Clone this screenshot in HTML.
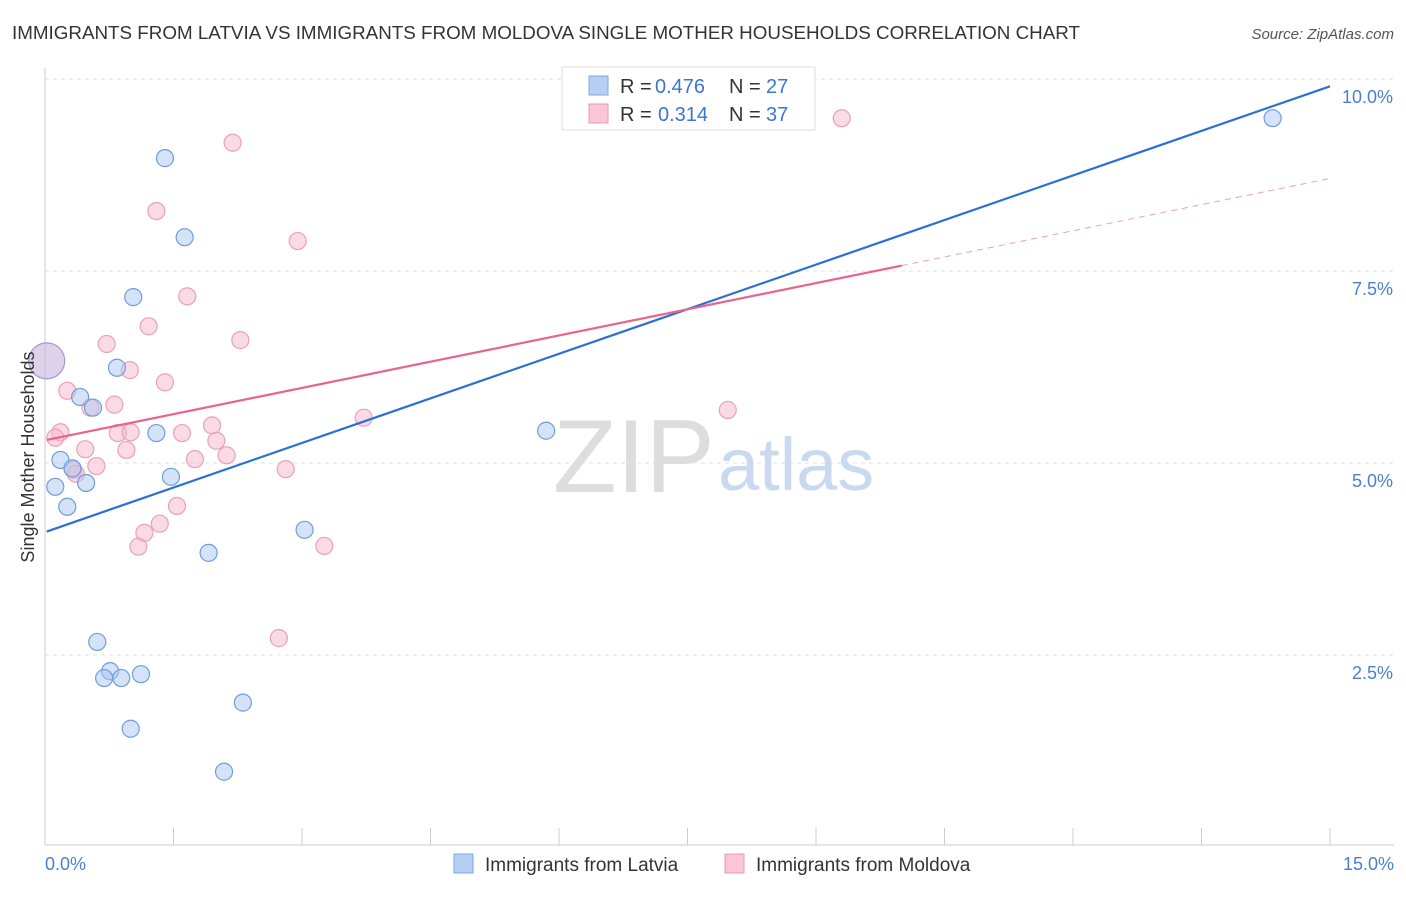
<!DOCTYPE html>
<html><head><meta charset="utf-8"><style>
body{margin:0;background:#fff;font-family:"Liberation Sans",sans-serif;}
svg text{font-family:"Liberation Sans",sans-serif;}
</style></head><body>
<svg width="1406" height="892" viewBox="0 0 1406 892">
<text x="12" y="39" font-size="18" fill="#333" textLength="1068" lengthAdjust="spacingAndGlyphs">IMMIGRANTS FROM LATVIA VS IMMIGRANTS FROM MOLDOVA SINGLE MOTHER HOUSEHOLDS CORRELATION CHART</text>
<text x="1394" y="39" font-size="15" fill="#555" font-style="italic" text-anchor="end">Source: ZipAtlas.com</text>
<g id="grid"></g>
<text x="553" y="492" font-size="104" fill="#ddd" font-family="Liberation Serif">ZIP</text>
<text x="718" y="490" font-size="74" fill="#c9d9ef">atlas</text>
<line x1="45" y1="68" x2="45" y2="845" stroke="#ccc"/>
<line x1="45" y1="845" x2="1394" y2="845" stroke="#ccc"/>
<g id="marks"></g>
<text transform="translate(34,457) rotate(-90)" font-size="18" fill="#333" text-anchor="middle">Single Mother Households</text>
<text x="45" y="870" font-size="18" fill="#4a7fd4">0.0%</text>
<text x="1394" y="870" font-size="18" fill="#4a7fd4" text-anchor="end">15.0%</text>
<g>
<rect x="562" y="67" width="253" height="63" fill="#fff" stroke="#ddd"/>
<rect x="589" y="76" width="19" height="19" fill="#b7d0f2" stroke="#7fa6de"/>
<rect x="589" y="104" width="19" height="19" fill="#f8c6d5" stroke="#e99ab3"/>
<text x="620" y="93" font-size="20" fill="#333">R =</text>
<text x="655" y="93" font-size="20" fill="#3b75d0">0.476</text>
<text x="729" y="93" font-size="20" fill="#333">N =</text>
<text x="766" y="93" font-size="20" fill="#3b75d0">27</text>
<text x="620" y="121" font-size="20" fill="#333">R =</text>
<text x="658" y="121" font-size="20" fill="#3b75d0">0.314</text>
<text x="729" y="121" font-size="20" fill="#333">N =</text>
<text x="766" y="121" font-size="20" fill="#3b75d0">37</text>
</g>
<g>
<rect x="454" y="854" width="19" height="19" fill="#b7d0f2" stroke="#7fa6de"/>
<text x="485" y="871" font-size="19" fill="#333">Immigrants from Latvia</text>
<rect x="725" y="854" width="19" height="19" fill="#f8c6d5" stroke="#e99ab3"/>
<text x="756" y="871" font-size="19" fill="#333">Immigrants from Moldova</text>
</g>
</svg>
<script>
const yTicks=[2.5,5.0,7.5,10.0];
const yTickLabels=["2.5%","5.0%","7.5%","10.0%"];
const xTicks=[1.5,3,4.5,6,7.5,9,10.5,12,13.5,15];
const latviaX=[1.40,1.63,1.03,0.84,0.41,0.56,1.30,0.18,0.32,0.12,0.48,1.47,0.26,1.91,3.03,5.85,0.61,0.76,0.69,0.89,1.12,2.31,1.00,2.09,14.33];
const latviaY=[8.97,7.94,7.16,6.24,5.86,5.72,5.39,5.04,4.93,4.69,4.74,4.82,4.43,3.83,4.13,5.42,2.67,2.29,2.20,2.20,2.25,1.88,1.54,0.98,9.49];
const moldovaX=[2.19,1.30,9.30,2.95,1.66,1.21,2.28,0.72,0.99,1.40,0.26,0.81,0.53,3.72,7.97,0.18,0.12,0.85,1.00,1.60,1.95,0.47,0.95,2.00,1.75,2.12,0.60,0.33,0.36,2.81,1.54,1.34,1.16,1.09,3.26,2.73];
const moldovaY=[9.17,8.28,9.49,7.89,7.17,6.78,6.60,6.55,6.21,6.05,5.94,5.76,5.72,5.59,5.69,5.40,5.33,5.39,5.40,5.39,5.49,5.18,5.17,5.29,5.05,5.10,4.96,4.91,4.86,4.92,4.44,4.21,4.09,3.91,3.92,2.72];
const bigPoint=[0.02,6.33];
const latviaTrend=[4.10,0.387];
const moldovaTrend=[5.30,0.227];
const moldovaSolidEnd=10.0;
const sx=v=>45+v*1285/15;
const sy=v=>847-v*76.8;
const NS="http://www.w3.org/2000/svg";
function mk(t,a,p){const e=document.createElementNS(NS,t);for(const k in a)e.setAttribute(k,a[k]);p.appendChild(e);return e;}
const grid=document.getElementById('grid'),marks=document.getElementById('marks');
yTicks.forEach((v,i)=>{
 const l=mk('line',{x1:45,x2:1394,y1:sy(v),y2:sy(v),stroke:'#e2e2e2','stroke-dasharray':'4,4'},grid);
 
 
 const t=mk('text',{x:1393,y:sy(v)+24,'font-size':18,fill:'#4a7fd4','text-anchor':'end'},grid);
 t.textContent=yTickLabels[i];
 
 
});
const top0=mk('line',{x1:45,x2:1394,y1:79,y2:79,stroke:'#e2e2e2','stroke-dasharray':'4,4'},grid);


xTicks.forEach(v=>{
 const l=mk('line',{x1:sx(v),x2:sx(v),y1:828,y2:845,stroke:'#ccc'},grid);
 
 
});
function dot(x,y,r,fill,stroke,name){
 const c=mk('circle',{cx:sx(x),cy:sy(y),r:r,fill:fill,stroke:stroke,'stroke-width':1.2},marks);
 
 
}
moldovaX.forEach((x,i)=>dot(x,moldovaY[i],8.5,'rgba(246,182,203,0.5)','#eaa0b8','moldova-point'));
latviaX.forEach((x,i)=>dot(x,latviaY[i],8.5,'rgba(170,200,240,0.5)','#6f9ddc','latvia-point'));
dot(bigPoint[0],bigPoint[1],18,'rgba(200,180,220,0.6)','#9c9ad8','big-point');
let l1=mk('line',{x1:sx(0.02),y1:sy(latviaTrend[0]+latviaTrend[1]*0.02),x2:sx(15),y2:sy(latviaTrend[0]+latviaTrend[1]*15),stroke:'#2b6fd6','stroke-width':2.2},marks);


let l2=mk('line',{x1:sx(0.02),y1:sy(moldovaTrend[0]),x2:sx(moldovaSolidEnd),y2:sy(moldovaTrend[0]+moldovaTrend[1]*moldovaSolidEnd),stroke:'#e8648e','stroke-width':2.2},marks);


let l3=mk('line',{x1:sx(moldovaSolidEnd),y1:sy(moldovaTrend[0]+moldovaTrend[1]*moldovaSolidEnd),x2:sx(15),y2:sy(moldovaTrend[0]+moldovaTrend[1]*15),stroke:'#e8a0b8','stroke-width':1,'stroke-dasharray':'6,5'},marks);


</script>
</body></html>
